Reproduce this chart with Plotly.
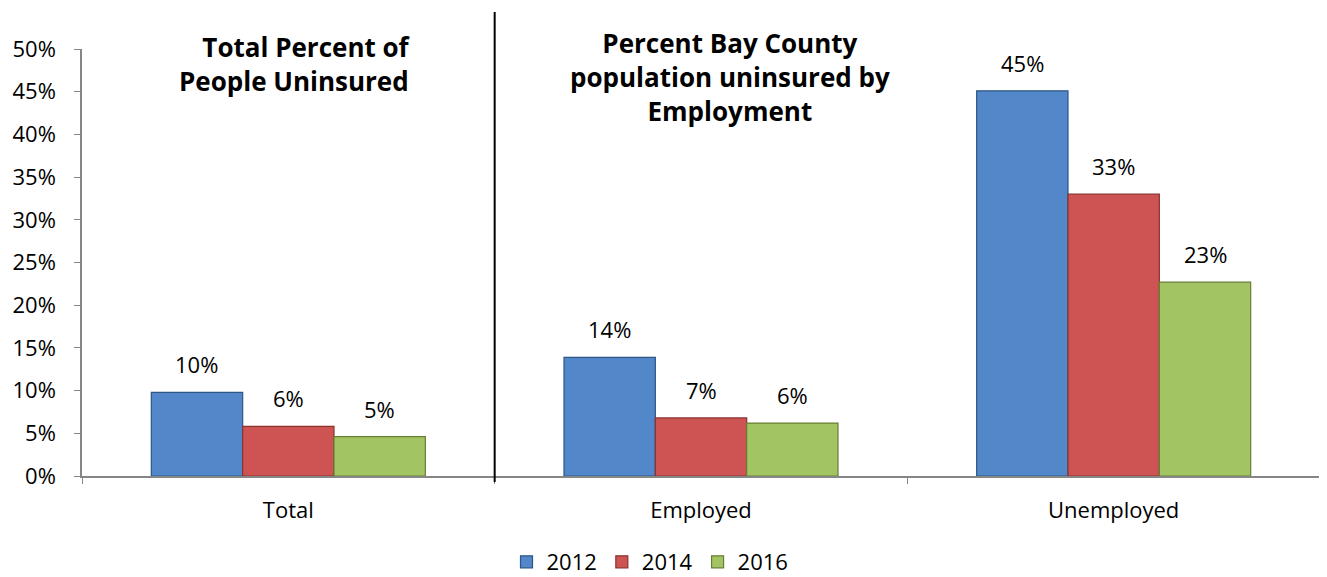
import plotly.graph_objects as go

categories = ["Total", "Employed", "Unemployed"]
years = ["2012", "2014", "2016"]
values_2012 = [0.098, 0.139, 0.451]
values_2014 = [0.058, 0.068, 0.330]
values_2016 = [0.046, 0.062, 0.227]
series = [values_2012, values_2014, values_2016]
colors = ["#5288C9", "#CD5452", "#A3C462"]
line_colors = ["#2E5584", "#8A3230", "#667F34"]
y_ticks = [i / 100 for i in range(0, 55, 5)]

FONT = "Open Sans"
# page body has an 8px default margin, so the figure is drawn 8px smaller
OFF = 8
W, H = 1327 - OFF, 577 - OFF
ML, MR, MT, MB = 82 - OFF, 7, 49 - OFF, 101
BARGAP = 0.336

fig = go.Figure()
for name, vals, c, lc in zip(years, series, colors, line_colors):
    fig.add_trace(go.Bar(
        x=categories, y=vals, name=name,
        marker=dict(color=c, line=dict(color=lc, width=1.2)),
        hoverinfo="skip",
    ))

plot_w = W - ML - MR
plot_h = H - MT - MB
cat_w = plot_w / len(categories)
bar_w = cat_w * (1 - BARGAP) / len(years)
for i, vals in enumerate(series):
    for cat, v in zip(categories, vals):
        fig.add_annotation(
            x=cat, y=v, xref="x", yref="y",
            text=f"{round(v * 100):.0f}%", showarrow=False,
            xshift=(i - 1) * bar_w, yshift=28, yanchor="middle",
            font=dict(family=FONT, size=22, color="black"),
        )

# helpers: reference page pixel -> paper coordinates
def py(p):
    return (476 - p) / plot_h

def px(p):
    return (p - 82) / plot_w

title_font = dict(family=FONT, size=26, color="black")
fig.add_annotation(x=px(413), y=py(27), xref="paper", yref="paper",
                   text="<b>Total Percent of<br>People Uninsured</b>", showarrow=False,
                   xanchor="right", yanchor="top", align="right", font=title_font)
fig.add_annotation(x=px(730), y=py(23), xref="paper", yref="paper",
                   text="<b>Percent Bay County<br>population uninsured by<br>Employment</b>",
                   showarrow=False, xanchor="center", yanchor="top", align="center",
                   font=title_font)

# divider between the total group and employment groups
fig.add_shape(type="line", xref="x", yref="paper", x0=0.5, x1=0.5,
              y0=py(482), y1=py(12), line=dict(color="black", width=2))

fig.update_layout(
    width=W, height=H,
    margin=dict(l=ML, r=MR, t=MT, b=MB, autoexpand=False),
    barmode="group", bargap=BARGAP, bargroupgap=0,
    plot_bgcolor="white", paper_bgcolor="white",
    font=dict(family=FONT, size=22, color="black"),
    showlegend=True,
    legend=dict(orientation="h", x=px(650), xanchor="center", y=py(562), yanchor="middle",
                font=dict(family=FONT, size=22, color="black"),
                itemwidth=30, traceorder="normal"),
)
fig.update_xaxes(
    showline=True, linecolor="#868686", linewidth=1.5,
    ticks="outside", tickson="boundaries", ticklen=6, tickcolor="#868686",
    showgrid=False, ticklabelstandoff=14, automargin=False,
    tickfont=dict(family=FONT, size=22, color="black"),
)
fig.update_yaxes(
    range=[0, 0.5], tickvals=y_ticks, tickformat=".0%",
    showline=True, linecolor="#868686", linewidth=1.5,
    ticks="outside", ticklen=6, tickcolor="#868686",
    showgrid=False, zeroline=False, ticklabelstandoff=14, automargin=False,
    tickfont=dict(family=FONT, size=22, color="black"),
)

fig.write_html("out.html")
